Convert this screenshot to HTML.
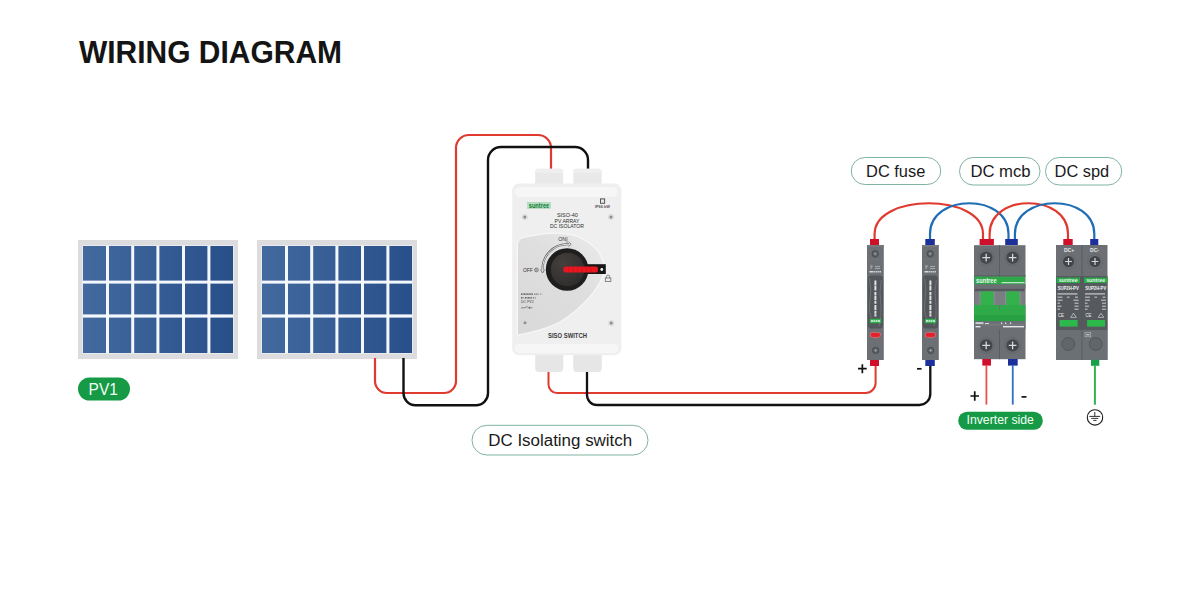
<!DOCTYPE html>
<html><head><meta charset="utf-8">
<style>
html,body{margin:0;padding:0;background:#fff;width:1200px;height:600px;overflow:hidden}
svg{display:block;font-family:"Liberation Sans",sans-serif}
</style></head>
<body>
<svg width="1200" height="600" viewBox="0 0 1200 600">
<defs>
<linearGradient id="pg1" gradientUnits="userSpaceOnUse" x1="83" y1="0" x2="233" y2="0">
<stop offset="0" stop-color="#436a9f"/><stop offset="1" stop-color="#294f8a"/>
</linearGradient>
<linearGradient id="pg2" gradientUnits="userSpaceOnUse" x1="262" y1="0" x2="412" y2="0">
<stop offset="0" stop-color="#436a9f"/><stop offset="1" stop-color="#294f8a"/>
</linearGradient>
<linearGradient id="greyg" gradientUnits="userSpaceOnUse" x1="520" y1="330" x2="600" y2="245">
<stop offset="0" stop-color="#d9d9d9"/><stop offset="0.6" stop-color="#dedede"/><stop offset="1" stop-color="#e8e8e8"/>
</linearGradient>
<radialGradient id="knobg" cx="0.35" cy="0.3" r="0.8">
<stop offset="0" stop-color="#43403e"/><stop offset="1" stop-color="#2e2c2b"/>
</radialGradient>
</defs>
<rect width="1200" height="600" fill="#fff"/>
<text x="79" y="62.8" font-size="31.7" textLength="263" lengthAdjust="spacingAndGlyphs" font-weight="bold" fill="#141414">WIRING DIAGRAM</text>

<!-- panels -->
<g id="panel1">
<rect x="78" y="240" width="160" height="119" fill="#dcdcde"/>
<rect x="82.5" y="245.5" width="151" height="108" fill="#f4f8fc"/>
<rect x="83" y="246" width="23.0" height="34.6" fill="url(#pg1)"/>
<rect x="109" y="246" width="22.2" height="34.6" fill="url(#pg1)"/>
<rect x="134.2" y="246" width="22.2" height="34.6" fill="url(#pg1)"/>
<rect x="159.4" y="246" width="22.6" height="34.6" fill="url(#pg1)"/>
<rect x="185" y="246" width="22.4" height="34.6" fill="url(#pg1)"/>
<rect x="210.4" y="246" width="22.6" height="34.6" fill="url(#pg1)"/>
<rect x="83" y="283.6" width="23.0" height="30.8" fill="url(#pg1)"/>
<rect x="109" y="283.6" width="22.2" height="30.8" fill="url(#pg1)"/>
<rect x="134.2" y="283.6" width="22.2" height="30.8" fill="url(#pg1)"/>
<rect x="159.4" y="283.6" width="22.6" height="30.8" fill="url(#pg1)"/>
<rect x="185" y="283.6" width="22.4" height="30.8" fill="url(#pg1)"/>
<rect x="210.4" y="283.6" width="22.6" height="30.8" fill="url(#pg1)"/>
<rect x="83" y="317.6" width="23.0" height="35.4" fill="url(#pg1)"/>
<rect x="109" y="317.6" width="22.2" height="35.4" fill="url(#pg1)"/>
<rect x="134.2" y="317.6" width="22.2" height="35.4" fill="url(#pg1)"/>
<rect x="159.4" y="317.6" width="22.6" height="35.4" fill="url(#pg1)"/>
<rect x="185" y="317.6" width="22.4" height="35.4" fill="url(#pg1)"/>
<rect x="210.4" y="317.6" width="22.6" height="35.4" fill="url(#pg1)"/>
</g>
<g id="panel2">
<rect x="257" y="240" width="160" height="119" fill="#dcdcde"/>
<rect x="261.5" y="245.5" width="151" height="108" fill="#f4f8fc"/>
<rect x="262" y="246" width="23.0" height="34.6" fill="url(#pg2)"/>
<rect x="288" y="246" width="22.2" height="34.6" fill="url(#pg2)"/>
<rect x="313.2" y="246" width="22.2" height="34.6" fill="url(#pg2)"/>
<rect x="338.4" y="246" width="22.6" height="34.6" fill="url(#pg2)"/>
<rect x="364" y="246" width="22.4" height="34.6" fill="url(#pg2)"/>
<rect x="389.4" y="246" width="22.6" height="34.6" fill="url(#pg2)"/>
<rect x="262" y="283.6" width="23.0" height="30.8" fill="url(#pg2)"/>
<rect x="288" y="283.6" width="22.2" height="30.8" fill="url(#pg2)"/>
<rect x="313.2" y="283.6" width="22.2" height="30.8" fill="url(#pg2)"/>
<rect x="338.4" y="283.6" width="22.6" height="30.8" fill="url(#pg2)"/>
<rect x="364" y="283.6" width="22.4" height="30.8" fill="url(#pg2)"/>
<rect x="389.4" y="283.6" width="22.6" height="30.8" fill="url(#pg2)"/>
<rect x="262" y="317.6" width="23.0" height="35.4" fill="url(#pg2)"/>
<rect x="288" y="317.6" width="22.2" height="35.4" fill="url(#pg2)"/>
<rect x="313.2" y="317.6" width="22.2" height="35.4" fill="url(#pg2)"/>
<rect x="338.4" y="317.6" width="22.6" height="35.4" fill="url(#pg2)"/>
<rect x="364" y="317.6" width="22.4" height="35.4" fill="url(#pg2)"/>
<rect x="389.4" y="317.6" width="22.6" height="35.4" fill="url(#pg2)"/>
</g>

<!-- wires panel->isolator -->
<g fill="none" stroke-linecap="butt">
<path d="M375 358 V381 A12 12 0 0 0 387 393 H444 A12 12 0 0 0 456 381 V148 A13 13 0 0 1 469 135 H538 A13 13 0 0 1 551 148 V170" stroke="#e0392e" stroke-width="2.2"/>
<path d="M403.5 358 V393 A12 12 0 0 0 415.5 405.3 H476 A12 12 0 0 0 488 393 V160 A13 13 0 0 1 501 147 H575 A13 13 0 0 1 588 160 V170" stroke="#111" stroke-width="2.4"/>
<path d="M548.5 371 V384.5 A8.5 8.5 0 0 0 557 393 H865.6 A10 10 0 0 0 875.6 383 V365" stroke="#e0392e" stroke-width="2"/>
<path d="M587 371 V395 A10 10 0 0 0 597 405 H919.3 A11 11 0 0 0 930.3 394 V365" stroke="#111" stroke-width="2.3"/>
</g>

<!-- isolator -->
<g id="isolator">
<rect x="535.2" y="168.8" width="27.9" height="22" rx="3.5" fill="#e9e9e9"/>
<rect x="535.2" y="168.8" width="27.9" height="4" rx="2" fill="#efefef"/>
<rect x="573.3" y="168.8" width="28.4" height="22" rx="3.5" fill="#e9e9e9"/>
<rect x="573.3" y="168.8" width="28.4" height="4" rx="2" fill="#efefef"/>
<rect x="535.2" y="345" width="28.1" height="27" rx="4" fill="#e6e6e6"/>
<rect x="573.2" y="345" width="28.6" height="27" rx="4" fill="#e6e6e6"/>
<rect x="512.2" y="183.6" width="109.2" height="171.6" rx="7" fill="#eeefee"/>
<rect x="514.5" y="187" width="103" height="10" rx="5" fill="#f5f6f5"/>
<rect x="514.5" y="344" width="104" height="9" rx="4.5" fill="#f5f6f5"/>
<path d="M517.4 335 V244 Q518 238 526 237 C545 232.5 568 230.5 584 239.5 C596 246.5 603 256 604 266.7 C605 285 580 310 560 322 C548 328 530 333 517.4 335 Z" fill="url(#greyg)" stroke="#f7f7f7" stroke-width="1.2"/>
<rect x="527.6" y="202.2" width="23" height="6.3" fill="#b4e2c2" stroke="#9cc8aa" stroke-width="0.4"/>
<text x="539" y="207.6" font-size="7.2" font-weight="bold" fill="#0e7a34" text-anchor="middle" textLength="20.5" lengthAdjust="spacingAndGlyphs">suntree</text>
<rect x="600.5" y="198.9" width="4.1" height="4.4" fill="#e8e8e8" stroke="#555" stroke-width="1"/>
<text x="602.4" y="207.9" font-size="3.8" font-weight="bold" fill="#555" text-anchor="middle" textLength="15" lengthAdjust="spacingAndGlyphs">IP66 kW</text>
<g fill="#e2e2e2" stroke="#d6d6d6" stroke-width="0.8">
<circle cx="524.8" cy="217" r="2.6"/><circle cx="611" cy="217" r="2.6"/>
<circle cx="525" cy="322.8" r="2.6"/><circle cx="611.2" cy="323" r="2.6"/>
</g>
<g fill="#8c8c8c">
<circle cx="524.8" cy="217" r="1.5"/><circle cx="611" cy="217" r="1.5"/>
<circle cx="525" cy="322.8" r="1.5"/><circle cx="611.2" cy="323" r="1.5"/>
</g>
<g fill="#2e2e2e" text-anchor="middle">
<text x="567.4" y="217.4" font-size="5.8" textLength="21" lengthAdjust="spacingAndGlyphs">SISO-40</text>
<text x="567" y="223" font-size="5.8" textLength="25" lengthAdjust="spacingAndGlyphs">PV ARRAY</text>
<text x="566.9" y="228.4" font-size="5.8" textLength="34" lengthAdjust="spacingAndGlyphs">DC ISOLATOR</text>
<text x="567.5" y="337.6" font-size="6.4" font-weight="bold" fill="#3a3a3a" textLength="39" lengthAdjust="spacingAndGlyphs">SISO SWITCH</text>
</g>
<circle cx="567.1" cy="269.5" r="21.3" fill="#1e1e1e"/>
<circle cx="567.6" cy="269.5" r="16.8" fill="url(#knobg)"/>
<rect x="586" y="264.2" width="19.8" height="9.8" fill="#161616"/>
<rect x="563.4" y="266.4" width="34.5" height="6.2" rx="2" fill="#e8161e"/>
<g stroke="#c01018" stroke-width="0.5">
<line x1="568.5" y1="266.4" x2="568.5" y2="272.6"/><line x1="573" y1="266.4" x2="573" y2="272.6"/>
<line x1="577.5" y1="266.4" x2="577.5" y2="272.6"/><line x1="582" y1="266.4" x2="582" y2="272.6"/>
<line x1="586.5" y1="266.4" x2="586.5" y2="272.6"/><line x1="591" y1="266.4" x2="591" y2="272.6"/>
</g>
<circle cx="601.8" cy="269.5" r="1.4" fill="#f4f4f4"/>
<rect x="605.3" y="278" width="5.6" height="3.6" fill="none" stroke="#5a5a5a" stroke-width="0.7"/>
<path d="M606.6 278 V276.6 A1.5 1.5 0 0 1 609.6 276.6 V278" fill="none" stroke="#5a5a5a" stroke-width="0.7"/>
<text x="562.2" y="241.1" font-size="5.2" fill="#333" text-anchor="middle" textLength="8" lengthAdjust="spacingAndGlyphs">ON</text><path d="M567 237 V243" stroke="#555" stroke-width="0.6"/>
<text x="527.9" y="272" font-size="4.9" fill="#333" text-anchor="middle" textLength="10" lengthAdjust="spacingAndGlyphs">OFF</text>
<circle cx="536.4" cy="269.9" r="1.9" fill="none" stroke="#444" stroke-width="0.6"/>
<circle cx="536.4" cy="269.9" r="0.8" fill="none" stroke="#444" stroke-width="0.4"/>
<path d="M542.6 270 A24.5 24.5 0 0 1 567 244.3 L569 244.3" fill="none" stroke="#555" stroke-width="2"/>
<path d="M542.6 270 A24.5 24.5 0 0 1 567 244.3 L569 244.3" fill="none" stroke="#f2f2f2" stroke-width="0.9"/>
<path d="M568.6 241.9 L571.2 244.3 L568.6 246.7" fill="none" stroke="#555" stroke-width="0.7"/>
<path d="M540.5 269.6 L542.6 273 L544.7 269.6" fill="none" stroke="#555" stroke-width="0.7"/>
<g stroke="#4a4a4a" fill="none">
<line x1="521" y1="294.2" x2="542" y2="294.2" stroke-width="1.3" stroke-dasharray="1.2 0.4 1 0.4 1.4 0.4 1 0.4 1.2 0.4 1 0.4 1.3 0.4 1 1.5 1 1 1"/>
<line x1="521" y1="297.9" x2="536" y2="297.9" stroke-width="1.2" stroke-dasharray="1 0.5 1 1.4 1.2 0.4 1 0.4 1.2 0.4 1 0.4 1 1.3 1"/>
<path d="M521 307.8 H524.5 L527.5 306.3 M527.5 307.8 H532.5 M529.5 306.5 V308.6" stroke-width="0.6"/>
</g>
<text x="521" y="302.7" font-size="3.4" fill="#3a3a3a" textLength="12.6" lengthAdjust="spacingAndGlyphs">DC PV2</text>

</g>

<!-- upper jumpers -->
<g fill="none" stroke-width="2.2">
<path d="M874.6 240 V234 C874.6 193 983 193 983 234 V240" stroke="#e0392e"/>
<path d="M930 240 V234 C930 193 1008.5 193 1008.5 234 V240" stroke="#1f6db5"/>
<path d="M989.6 240 V234 C989.6 193 1068 193 1068 234 V240" stroke="#e0392e"/>
<path d="M1014.9 240 V234 C1014.9 193 1094.3 193 1094.3 234 V240" stroke="#1f6db5"/>
</g>

<!-- devices -->
<g id="fuses">
<g><rect x="867" y="245" width="16.8" height="115" fill="#6c7074"/><rect x="867" y="245" width="16.8" height="2" fill="#767a7e"/><circle cx="875.2" cy="253.8" r="3.2" fill="#5a5e62" stroke="#44484c" stroke-width="0.8"/><path d="M873.6 253.8 H876.8 M875.2 252.2 V255.4" stroke="#b4b8bc" stroke-width="0.6"/><line x1="867" y1="259.5" x2="883.8" y2="259.5" stroke="#777b7f" stroke-width="0.5"/><path d="M871 264.8 V269.2 M871 267 L873 266 M875 266.5 H880 M875 268.5 H880" stroke="#d0d2d4" stroke-width="0.6"/><line x1="869.5" y1="271.8" x2="881" y2="271.8" stroke="#d8dadc" stroke-width="1.6" stroke-dasharray="4 0.6 1.4 0.6 1.4 0.6 1.4 0.6 1.5"/><path d="M867.8 279 Q867.8 275.5 871 275.5 H880 Q883 275.5 883 279 V325 Q883 328.5 880 328.5 H871 Q867.8 328.5 867.8 325 Z" fill="#53575b"/><path d="M869.5 278 Q872 290 869.8 302 Q868.5 312 871.5 318 M881.3 280 Q878.8 292 881 306 Q882 316 879 326" fill="none" stroke="#8a8e92" stroke-width="0.5"/><line x1="875.4" y1="280.5" x2="875.4" y2="316.5" stroke="#dfe1e3" stroke-width="2" stroke-dasharray="5 0.6 4.5 1.4 3.5 0.6 4 0.6 3 1.4 5 0.6 3 0.6 4"/><rect x="869.8" y="318.8" width="11.5" height="4.4" rx="0.8" fill="#33b050"/><line x1="871" y1="321" x2="880" y2="321" stroke="#e6f7ea" stroke-width="1.5" stroke-dasharray="2.5 0.5 1.5 0.5 1.5 0.5 2.5"/><rect x="870.2" y="332.4" width="10.4" height="5" rx="2.5" fill="#e3202c" stroke="#d98a90" stroke-width="0.6"/><circle cx="875.7" cy="350.4" r="3.2" fill="#5a5e62" stroke="#44484c" stroke-width="0.8"/><path d="M874.1 350.4 H877.3 M875.7 348.8 V352" stroke="#b4b8bc" stroke-width="0.6"/></g>
<g><rect x="922" y="245" width="16.8" height="115" fill="#6c7074"/><rect x="922" y="245" width="16.8" height="2" fill="#767a7e"/><circle cx="930.2" cy="253.8" r="3.2" fill="#5a5e62" stroke="#44484c" stroke-width="0.8"/><path d="M928.6 253.8 H931.8 M930.2 252.2 V255.4" stroke="#b4b8bc" stroke-width="0.6"/><line x1="922" y1="259.5" x2="938.8" y2="259.5" stroke="#777b7f" stroke-width="0.5"/><path d="M926 264.8 V269.2 M926 267 L928 266 M930 266.5 H935 M930 268.5 H935" stroke="#d0d2d4" stroke-width="0.6"/><line x1="924.5" y1="271.8" x2="936" y2="271.8" stroke="#d8dadc" stroke-width="1.6" stroke-dasharray="4 0.6 1.4 0.6 1.4 0.6 1.4 0.6 1.5"/><path d="M922.8 279 Q922.8 275.5 926 275.5 H935 Q938 275.5 938 279 V325 Q938 328.5 935 328.5 H926 Q922.8 328.5 922.8 325 Z" fill="#53575b"/><path d="M924.5 278 Q927 290 924.8 302 Q923.5 312 926.5 318 M936.3 280 Q933.8 292 936 306 Q937 316 934 326" fill="none" stroke="#8a8e92" stroke-width="0.5"/><line x1="930.4" y1="280.5" x2="930.4" y2="316.5" stroke="#dfe1e3" stroke-width="2" stroke-dasharray="5 0.6 4.5 1.4 3.5 0.6 4 0.6 3 1.4 5 0.6 3 0.6 4"/><rect x="924.8" y="318.8" width="11.5" height="4.4" rx="0.8" fill="#33b050"/><line x1="926" y1="321" x2="935" y2="321" stroke="#e6f7ea" stroke-width="1.5" stroke-dasharray="2.5 0.5 1.5 0.5 1.5 0.5 2.5"/><rect x="925.2" y="332.4" width="10.4" height="5" rx="2.5" fill="#e3202c" stroke="#d98a90" stroke-width="0.6"/><circle cx="930.7" cy="350.4" r="3.2" fill="#5a5e62" stroke="#44484c" stroke-width="0.8"/><path d="M929.1 350.4 H932.3 M930.7 348.8 V352" stroke="#b4b8bc" stroke-width="0.6"/></g>
<rect x="870" y="239" width="9" height="6" fill="#d0102a"/>
<rect x="870" y="360" width="9" height="6" fill="#d0102a"/>
<rect x="925.3" y="239" width="9.5" height="6" fill="#1d2f9a"/>
<rect x="925.3" y="360" width="9.5" height="6" fill="#1d2f9a"/>
</g>
<g id="mcb">
<rect x="974" y="245.2" width="51.5" height="114" fill="#6c7074"/>
<circle cx="986.2" cy="257.6" r="8.0" fill="#696d71" stroke="#63676b" stroke-width="0.8"/><circle cx="986.2" cy="257.6" r="6.2" fill="#43474b"/><path d="M982.36 257.6 H990.04 M986.2 253.76 V261.44" stroke="#d8dadc" stroke-width="1.3"/><circle cx="1012.6" cy="257.6" r="8.0" fill="#696d71" stroke="#63676b" stroke-width="0.8"/><circle cx="1012.6" cy="257.6" r="6.2" fill="#43474b"/><path d="M1008.76 257.6 H1016.44 M1012.6 253.76 V261.44" stroke="#d8dadc" stroke-width="1.3"/>
<rect x="974" y="275" width="51.5" height="1.6" fill="#5f6367"/>
<rect x="974.5" y="276.6" width="50.5" height="7.8" fill="#2fa84a"/>
<text x="986.3" y="283.2" font-size="6.6" font-weight="bold" fill="#eef8f0" text-anchor="middle" textLength="20.5" lengthAdjust="spacingAndGlyphs">suntree</text>
<rect x="1001.5" y="282.2" width="23" height="1" fill="#e0f4e4"/>
<rect x="974" y="284.4" width="51.5" height="4.4" fill="#6c7074"/>
<rect x="975" y="288.8" width="49.5" height="2.6" fill="#55585c"/>
<rect x="975" y="291.4" width="49.5" height="14" fill="#7a7e82"/>
<rect x="979.5" y="291.4" width="1.2" height="14" fill="#8a8e92"/><rect x="993.5" y="291.4" width="1.2" height="14" fill="#8a8e92"/><rect x="1005" y="291.4" width="1.2" height="14" fill="#8a8e92"/><rect x="1019.5" y="291.4" width="1.2" height="14" fill="#8a8e92"/>
<rect x="980.7" y="291.4" width="12.8" height="15" fill="#33b24c"/>
<rect x="1006.2" y="291.4" width="13.3" height="15" fill="#33b24c"/>
<rect x="974" y="305" width="51.5" height="10" fill="#2eab48"/>
<rect x="999" y="305" width="1" height="5" fill="#6c7074"/>
<rect x="974" y="315" width="51.5" height="6.3" fill="#26a043"/>
<rect x="974" y="321.3" width="51.5" height="8.2" fill="#6c7074"/>
<g fill="#e4e6e8"><rect x="975.5" y="322.3" width="8" height="1.5"/><rect x="985" y="323" width="4" height="0.9"/><rect x="1001" y="322.5" width="1.2" height="1.5"/><rect x="1005" y="322.5" width="1.2" height="1.5"/><rect x="1010" y="322.5" width="1.2" height="1.5"/><rect x="975.5" y="326" width="5" height="1.4"/><rect x="1003" y="326" width="21" height="1.4"/></g>
<line x1="975" y1="324.8" x2="1024" y2="324.8" stroke="#9a9ea2" stroke-width="0.4"/>
<line x1="999.5" y1="245.2" x2="999.5" y2="276" stroke="#56595d" stroke-width="0.8"/>
<line x1="999.5" y1="329.5" x2="999.5" y2="359.2" stroke="#56595d" stroke-width="0.8"/>
<circle cx="986.2" cy="345.4" r="8.0" fill="#696d71" stroke="#63676b" stroke-width="0.8"/><circle cx="986.2" cy="345.4" r="6.2" fill="#43474b"/><path d="M982.36 345.4 H990.04 M986.2 341.56 V349.24" stroke="#d8dadc" stroke-width="1.3"/><circle cx="1012.6" cy="345.4" r="8.0" fill="#696d71" stroke="#63676b" stroke-width="0.8"/><circle cx="1012.6" cy="345.4" r="6.2" fill="#43474b"/><path d="M1008.76 345.4 H1016.44 M1012.6 341.56 V349.24" stroke="#d8dadc" stroke-width="1.3"/>
<rect x="979.6" y="239" width="14.3" height="6" fill="#d0102a"/>
<rect x="1005.2" y="239" width="12.6" height="6" fill="#1d2f9a"/>
<rect x="982.3" y="359" width="8.7" height="6.6" fill="#d0102a"/>
<rect x="1008" y="359" width="9.7" height="6.6" fill="#1d2f9a"/>
</g>
<g id="spd">
<rect x="1056" y="245" width="51.5" height="115" fill="#6c7074"/>
<rect x="1056" y="276" width="51.5" height="54" fill="#565a5e"/>
<line x1="1082" y1="245" x2="1082" y2="360" stroke="#55585c" stroke-width="0.8"/>
<g font-weight="bold" fill="#e6e8ea" text-anchor="middle" font-size="5"><text x="1069" y="251.6">DC+</text><text x="1094.5" y="251.6">DC-</text></g>
<circle cx="1068.5" cy="261.5" r="7.5" fill="none" stroke="#63676b" stroke-width="0.8"/><circle cx="1068.5" cy="261.5" r="5.5" fill="#41454a"/><path d="M1065.09 261.5 H1071.91 M1068.5 258.09 V264.91" stroke="#d4d6d8" stroke-width="1.21"/><circle cx="1095" cy="261.5" r="7.5" fill="none" stroke="#63676b" stroke-width="0.8"/><circle cx="1095" cy="261.5" r="5.5" fill="#41454a"/><path d="M1091.59 261.5 H1098.41 M1095 258.09 V264.91" stroke="#d4d6d8" stroke-width="1.21"/>
<rect x="1056.5" y="277.5" width="23.5" height="5.5" fill="#2aa84a"/><text x="1068.2" y="282.3" font-size="5.4" font-weight="bold" fill="#e6f7e9" text-anchor="middle" textLength="19" lengthAdjust="spacingAndGlyphs">suntree</text><text x="1068.2" y="290.3" font-size="5" font-weight="bold" fill="#f4f6f8" text-anchor="middle" textLength="21" lengthAdjust="spacingAndGlyphs">SUP2H-PV</text><g fill="#b9bcbf"><rect x="1057.5" y="293.2" width="20" height="1.4"/><rect x="1057.5" y="296.6" width="5" height="1.2"/><rect x="1067" y="296.6" width="2.5" height="1.2"/><rect x="1075" y="296.6" width="3" height="1.2"/><rect x="1057.5" y="299.6" width="5" height="1.2"/><rect x="1073.5" y="299.6" width="5" height="1.2"/><rect x="1057.5" y="302.6" width="2.5" height="1.2"/><rect x="1074.5" y="302.6" width="4" height="1.2"/><rect x="1057.5" y="305.6" width="4" height="1.2"/><rect x="1074.5" y="305.6" width="4" height="1.2"/><rect x="1057.5" y="308.6" width="2.5" height="1.2"/><rect x="1074.5" y="308.6" width="4" height="1.2"/></g><text x="1058" y="317.4" font-size="5" fill="#eceeef" textLength="6" lengthAdjust="spacingAndGlyphs">CE</text><path d="M1073.5 313.2 L1076.3 317.4 H1070.7 Z" fill="none" stroke="#e4e6e8" stroke-width="0.6"/><rect x="1059.6" y="320" width="18" height="6.6" fill="#2db84c"/>
<rect x="1084.0" y="277.5" width="23.5" height="5.5" fill="#2aa84a"/><text x="1095.7" y="282.3" font-size="5.4" font-weight="bold" fill="#e6f7e9" text-anchor="middle" textLength="19" lengthAdjust="spacingAndGlyphs">suntree</text><text x="1095.7" y="290.3" font-size="5" font-weight="bold" fill="#f4f6f8" text-anchor="middle" textLength="21" lengthAdjust="spacingAndGlyphs">SUP2H-PV</text><g fill="#b9bcbf"><rect x="1085.0" y="293.2" width="20" height="1.4"/><rect x="1085.0" y="296.6" width="5" height="1.2"/><rect x="1094.5" y="296.6" width="2.5" height="1.2"/><rect x="1102.5" y="296.6" width="3" height="1.2"/><rect x="1085.0" y="299.6" width="5" height="1.2"/><rect x="1101.0" y="299.6" width="5" height="1.2"/><rect x="1085.0" y="302.6" width="2.5" height="1.2"/><rect x="1102.0" y="302.6" width="4" height="1.2"/><rect x="1085.0" y="305.6" width="4" height="1.2"/><rect x="1102.0" y="305.6" width="4" height="1.2"/><rect x="1085.0" y="308.6" width="2.5" height="1.2"/><rect x="1102.0" y="308.6" width="4" height="1.2"/></g><text x="1085.5" y="317.4" font-size="5" fill="#eceeef" textLength="6" lengthAdjust="spacingAndGlyphs">CE</text><path d="M1101.0 313.2 L1103.8 317.4 H1098.2 Z" fill="none" stroke="#e4e6e8" stroke-width="0.6"/><rect x="1087.1" y="320" width="18" height="6.6" fill="#2db84c"/>
<rect x="1056" y="330" width="51.5" height="29.8" fill="#6a7074"/>
<line x1="1082" y1="329.5" x2="1082" y2="359.8" stroke="#55585c" stroke-width="0.8"/>
<circle cx="1068.3" cy="344" r="6.4" fill="#60666a" stroke="#50565a" stroke-width="1"/>
<circle cx="1095.75" cy="344" r="6.4" fill="#60666a" stroke="#50565a" stroke-width="1"/>
<rect x="1085" y="332.6" width="5.8" height="4.2" fill="none" stroke="#c6c8ca" stroke-width="0.5"/><rect x="1086.3" y="334" width="3.2" height="1.4" fill="#c6c8ca"/>
<rect x="1063.3" y="239" width="9.4" height="6" fill="#d0102a"/>
<rect x="1090.2" y="239" width="8.1" height="6" fill="#1d2f9a"/>
<rect x="1091" y="359.8" width="8.3" height="6" fill="#18a04a"/>
</g>

<!-- inverter side wires -->
<g fill="none" stroke-width="1.8">
<line x1="986.4" y1="365" x2="986.4" y2="404.6" stroke="#e8524a"/>
<line x1="1012.75" y1="365" x2="1012.75" y2="404.6" stroke="#2f6fc0"/>
<line x1="1094.9" y1="365" x2="1094.9" y2="404.75" stroke="#35b054" stroke-width="2"/>
</g>
<g fill="none" stroke="#1a1a1a">
<circle cx="1095" cy="417.4" r="7.7" stroke-width="1.1"/>
<path d="M1094.8 412 V416.4 M1089.3 416.4 H1100.2 M1091.3 418.4 H1098.3 M1093.3 420.4 H1096.5" stroke-width="0.9"/>
</g>

<!-- labels -->
<g font-size="16" fill="#1a1a1a" text-anchor="middle">
<rect x="851.25" y="157.5" width="89.5" height="27" rx="13.5" fill="#fff" stroke="#7fb3a2" stroke-width="1"/>
<text x="895.7" y="177" textLength="59.2" lengthAdjust="spacingAndGlyphs">DC fuse</text>
<rect x="959.5" y="157.5" width="80.5" height="27.5" rx="13.7" fill="#fff" stroke="#7fb3a2" stroke-width="1"/>
<text x="1000.5" y="177" textLength="60.2" lengthAdjust="spacingAndGlyphs">DC mcb</text>
<rect x="1045.5" y="157.5" width="76.25" height="27.5" rx="13.7" fill="#fff" stroke="#7fb3a2" stroke-width="1"/>
<text x="1081.9" y="177" textLength="54.6" lengthAdjust="spacingAndGlyphs">DC spd</text>
<rect x="472" y="425.3" width="176" height="29.7" rx="14.8" fill="#fff" stroke="#7fb3a2" stroke-width="1"/>
<text x="560.2" y="446" textLength="143.9" lengthAdjust="spacingAndGlyphs">DC Isolating switch</text>
</g>
<rect x="78" y="377.5" width="52" height="23" rx="11.5" fill="#169a46"/>
<text x="103.2" y="395" font-size="16.5" fill="#f4fff6" text-anchor="middle" textLength="29.2" lengthAdjust="spacingAndGlyphs">PV1</text>
<rect x="958.2" y="411.7" width="84.6" height="18.1" rx="9" fill="#169a46"/>
<text x="1000.2" y="423.8" font-size="12" fill="#f4fff6" text-anchor="middle" textLength="67.3" lengthAdjust="spacingAndGlyphs">Inverter side</text>
<g stroke="#111" stroke-width="1.7" fill="none">
<path d="M858 368.7 H866.7 M862.35 364.2 V373.3"/>
<path d="M917 368.8 H921.6"/>
<path d="M970.5 396 H979 M974.75 391.3 V400.8"/>
<path d="M1021.5 396.9 H1026.5"/>
</g>
</svg>
</body></html>
